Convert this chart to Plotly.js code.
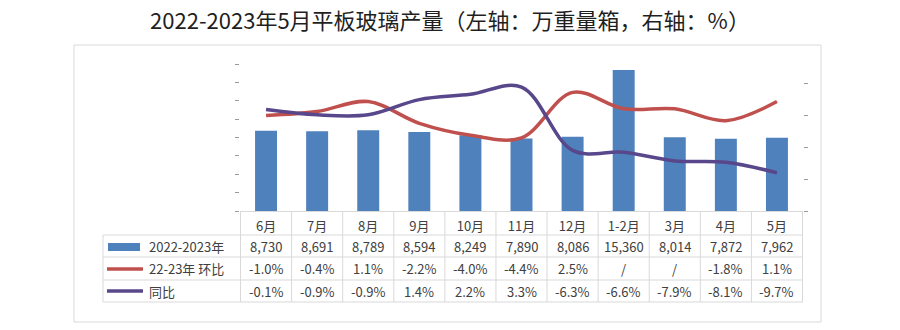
<!DOCTYPE html>
<html>
<head>
<meta charset="utf-8">
<script src="https://cdn.plot.ly/plotly-3.0.1.min.js"></script>
<style>html,body{margin:0;padding:0;background:#fff;}#chart{width:900px;height:330px;}</style>
</head>
<body>
<div id="chart"></div>
<script>
// ---- data ----
const months = ['6月','7月','8月','9月','10月','11月','12月','1-2月','3月','4月','5月'];
const output = [8730, 8691, 8789, 8594, 8249, 7890, 8086, 15360, 8014, 7872, 7962];
// 环比 as shown in the table (null = "/")
const momTable = [-1.0, -0.4, 1.1, -2.2, -4.0, -4.4, 2.5, null, null, -1.8, 1.1];
// 环比 as drawn by the line (the "/" cells plot at 0)
const momLine = [-1.0, -0.4, 1.1, -2.2, -4.0, -4.4, 2.5, 0.0, 0.0, -1.8, 1.1];
const yoy = [-0.1, -0.9, -0.9, 1.4, 2.2, 3.3, -6.3, -6.6, -7.9, -8.1, -9.7];
const seriesNames = ['2022-2023年', '22-23年 环比', '同比'];

// ---- layout geometry (pixels) ----
const W = 900, H = 330;
const PL = 240, PR = 803, PT = 64, PB = 211;
const fx = px => (px - PL) / (PR - PL);
const fy = py => (PB - py) / (PB - PT);

const BLUE = '#4f81bd', RED = '#c0504d', PURPLE = '#58478a';
const GRID = '#d9d9d9', TXT = '#404040';
const FONT = '"Noto Sans CJK SC", "Noto Sans", sans-serif';

const traces = [
  {type: 'bar', x: months, y: output, name: seriesNames[0], marker: {color: BLUE}, yaxis: 'y', hoverinfo: 'skip'},
  {type: 'scatter', mode: 'lines', x: months, y: momLine, name: seriesNames[1], yaxis: 'y2',
   line: {color: RED, width: 3.5, shape: 'spline', smoothing: 1}, hoverinfo: 'skip'},
  {type: 'scatter', mode: 'lines', x: months, y: yoy, name: seriesNames[2], yaxis: 'y2',
   line: {color: PURPLE, width: 3.5, shape: 'spline', smoothing: 1}, hoverinfo: 'skip'}
];

// ---- table (data table under the axis) ----
const rowTops = [212, 235, 257, 280, 302];
const shapes = [];
const line = (x0, y0, x1, y1, c, w, xref) => ({type: 'line', xref: xref || 'paper', yref: 'paper',
  x0: x0, x1: x1, y0: fy(y0), y1: fy(y1), line: {color: c, width: w}});

// chart border
shapes.push({type: 'rect', xref: 'paper', yref: 'paper', x0: fx(74), x1: fx(821), y0: fy(45), y1: fy(322),
  line: {color: GRID, width: 1}, fillcolor: 'rgba(0,0,0,0)', layer: 'below'});
// horizontal lines
for (let i = 1; i < rowTops.length; i++) shapes.push(line(fx(103), rowTops[i], fx(PR), rowTops[i], GRID, 1));
// vertical lines between categories
for (let i = 0; i <= months.length; i++) shapes.push(line(i - 0.5, rowTops[0], i - 0.5, rowTops[4], GRID, 1, 'x'));
// left edge of label column
shapes.push(line(fx(103), rowTops[1], fx(103), rowTops[4], GRID, 1));
// legend keys
shapes.push({type: 'rect', xref: 'paper', yref: 'paper', x0: fx(108), x1: fx(140), y0: fy(243), y1: fy(251),
  fillcolor: BLUE, line: {width: 0}});
shapes.push(line(fx(107), 269, fx(143), 269, RED, 3.5));
shapes.push(line(fx(107), 291, fx(143), 291, PURPLE, 3.5));

const annotations = [];
const rowMid = [246, 268.5, 291];
seriesNames.forEach((n, r) => annotations.push({xref: 'paper', yref: 'paper', x: fx(147), y: fy(rowMid[r]),
  xanchor: 'left', yanchor: 'middle', text: n, showarrow: false, font: {size: 13, color: TXT, family: FONT}}));
const fmtPct = v => v === null ? '/' : v.toFixed(1) + '%';
months.forEach((m, i) => {
  const cells = [output[i].toLocaleString('en-US'), fmtPct(momTable[i]), fmtPct(yoy[i])];
  cells.forEach((t, r) => annotations.push({xref: 'x', yref: 'paper', x: m, y: fy(rowMid[r]),
    xanchor: 'center', yanchor: 'middle', text: t, showarrow: false, font: {size: 13, color: TXT, family: FONT}}));
});

const layout = {
  width: W, height: H,
  margin: {l: PL, r: W - PR, t: PT, b: H - PB, pad: 0},
  paper_bgcolor: '#fff', plot_bgcolor: 'rgba(0,0,0,0)',
  font: {family: FONT, color: TXT, size: 13},
  showlegend: false,
  bargap: 0.57,
  title: {text: '2022-2023年5月平板玻璃产量（左轴：万重量箱，右轴：%）', x: 0.5, xanchor: 'center',
    y: 1 - 21 / H, yanchor: 'middle', yref: 'container', font: {size: 22, color: '#1f1f1f', family: FONT}},
  xaxis: {type: 'category', showgrid: false, zeroline: false, showline: true, linecolor: GRID, linewidth: 1,
    ticks: '', tickfont: {size: 13, color: TXT}, ticklabelstandoff: 3, fixedrange: true},
  yaxis: {range: [0, 16000], dtick: 2000, showgrid: false, zeroline: false, showline: false,
    ticks: 'outside', ticklen: 4, tickcolor: '#9a9a9a', showticklabels: false},
  yaxis2: {overlaying: 'y', side: 'right', range: [-15.5, 6.8], tickmode: 'linear', tick0: -15.5, dtick: 4.85,
    showgrid: false, zeroline: false, showline: false, ticks: 'outside', ticklen: 4, tickcolor: '#9a9a9a',
    showticklabels: false},
  shapes: shapes,
  annotations: annotations
};

Plotly.newPlot('chart', traces, layout, {staticPlot: true, displayModeBar: false});
</script>
</body>
</html>
